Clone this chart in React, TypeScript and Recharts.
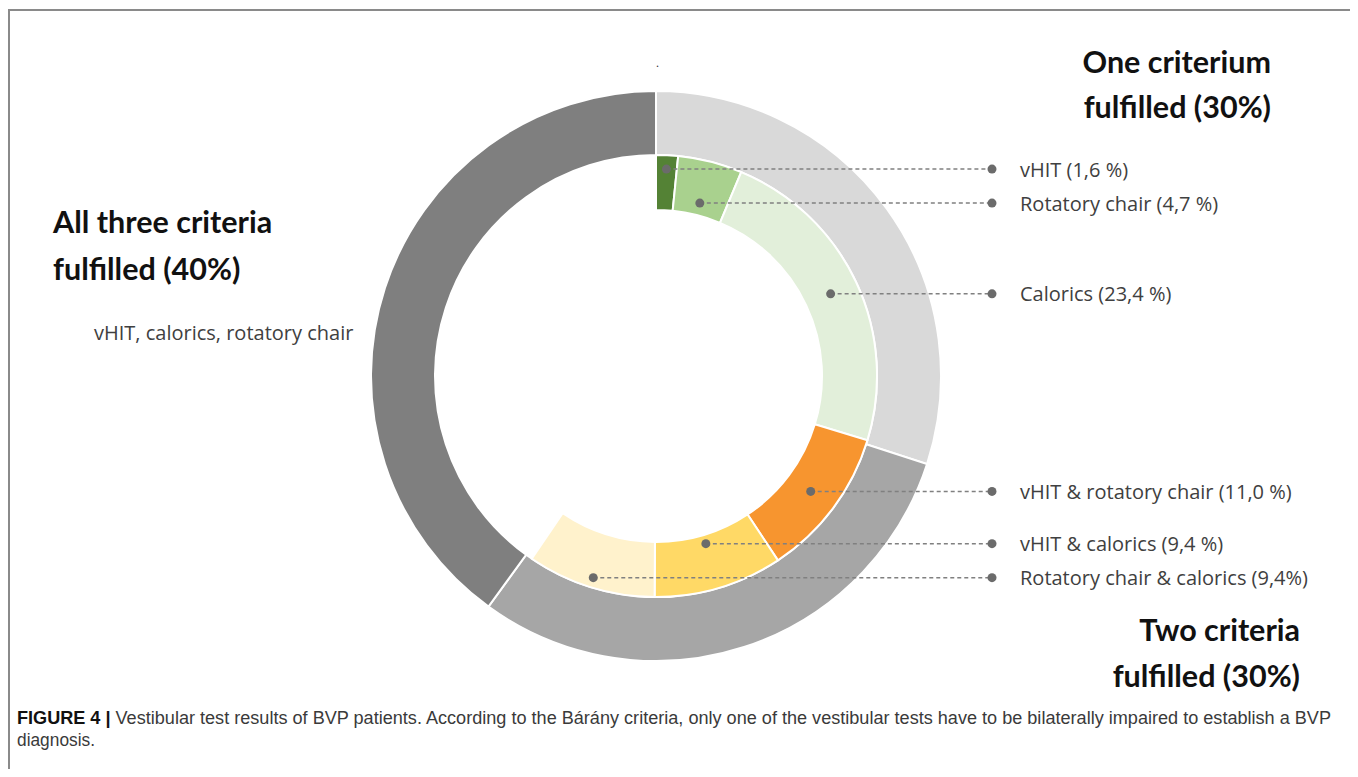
import React from "react";
import { PieChart, Pie, Cell } from "recharts";

// outer ring: how many Bárány criteria were met
const groupNames = ["One criterium", "Two criteria", "All three criteria"];
const groupShares = [30, 30, 40];
const groupColors = ["#d9d9d9", "#a6a6a6", "#7f7f7f"];

// inner ring: which tests were impaired
const testNames = [
  "vHIT (1,6 %)",
  "Rotatory chair (4,7 %)",
  "Calorics (23,4 %)",
  "vHIT & rotatory chair (11,0 %)",
  "vHIT & calorics (9,4 %)",
  "Rotatory chair & calorics (9,4%)",
];
const testShares = [1.6, 4.7, 23.4, 11.0, 9.4, 9.4];
const testColors = ["#548235", "#a9d18e", "#e2efda", "#f7952f", "#ffd966", "#fff2cc"];

const restShare = 100 - testShares.reduce((a, b) => a + b, 0);

const outerData = groupNames.map((name, i) => ({ name, value: groupShares[i] }));
const innerData = [
  ...testNames.map((name, i) => ({ name, value: testShares[i] })),
  { name: "", value: restShare },
];

const W = 1358;
const H = 700;
const CX = 656;
const CY = 376;
const RAD = Math.PI / 180;
const DOT_R = 193;
const GAP = 34;
const LINE_END = 336;
const TEXT_X = 364;

// vertical offsets of the leader labels, spread so they do not overlap
function labelOffsets(): number[] {
  let cum = 0;
  const dys = testShares.map((v) => {
    const mid = 90 - (360 * (cum + v / 2)) / 100;
    cum += v;
    return -DOT_R * Math.sin(mid * RAD);
  });
  for (let k = 0; k < 20; k++) {
    for (let i = 0; i < dys.length - 1; i++) {
      if (dys[i + 1] - dys[i] < GAP) {
        const c = (dys[i] + dys[i + 1]) / 2;
        dys[i] = c - GAP / 2;
        dys[i + 1] = c + GAP / 2;
      }
    }
  }
  return dys;
}
const offsets = labelOffsets();

const renderTestLabel = (p: any) => {
  const i = p.index;
  if (i >= testNames.length) return null;
  const s = Math.sin(p.midAngle * RAD);
  const c = Math.cos(p.midAngle * RAD);
  const dy = offsets[i];
  let r = Math.abs(s) > 0.05 ? -dy / s : DOT_R;
  r = Math.max(p.innerRadius + 6, Math.min(p.outerRadius - 6, r));
  const x0 = p.cx + r * c;
  const y0 = p.cy - r * s;
  const y = p.cy + dy;
  return (
    <g key={"lab" + i}>
      <line x1={x0} y1={y0} x2={p.cx + LINE_END} y2={y} stroke="#808080" strokeWidth={1.5} strokeDasharray="4 3" />
      <circle cx={x0} cy={y0} r={4.5} fill="#6b6b6b" />
      <circle cx={p.cx + LINE_END} cy={y} r={4.5} fill="#6b6b6b" />
      <text x={p.cx + TEXT_X} y={y} dominantBaseline="central" fontFamily="'Open Sans', sans-serif" fontSize={20} fill="#404040">
        {testNames[i]}
      </text>
    </g>
  );
};

const headFont = "Lato, 'Open Sans', sans-serif";

export default function App() {
  return (
    <div style={{ position: "relative", width: 1342, height: 761, overflow: "hidden" }}>
      <div
        style={{
          position: "absolute", left: 0, top: 1, width: 1346, height: 800,
          border: "2px solid #8a8a8a", boxSizing: "border-box",
        }}
      />
      <div style={{ position: "absolute", left: -8, top: -8 }}>
        <PieChart width={W} height={H} margin={{ top: 0, right: 0, bottom: 0, left: 0 }}>
          <Pie
            data={outerData} dataKey="value" nameKey="name" cx={CX} cy={CY}
            innerRadius={221} outerRadius={285} startAngle={90} endAngle={-270}
            stroke="#ffffff" strokeWidth={2} isAnimationActive={false}
          >
            {outerData.map((d, i) => <Cell key={d.name} fill={groupColors[i]} />)}
          </Pie>
          <Pie
            data={innerData} dataKey="value" nameKey="name" cx={CX} cy={CY}
            innerRadius={166} outerRadius={221} startAngle={90} endAngle={-270}
            stroke="#ffffff" strokeWidth={2} isAnimationActive={false}
            label={renderTestLabel} labelLine={false}
          >
            {innerData.map((d, i) => (
              <Cell key={"c" + i} fill={i < testColors.length ? testColors[i] : "none"} stroke={i < testColors.length ? "#ffffff" : "none"} />
            ))}
          </Pie>
        </PieChart>
      </div>
      <svg width={W} height={777} style={{ position: "absolute", left: -8, top: -8, pointerEvents: "none" }}>
        <text x={CX} y={67} fontSize={12} fill="#333">.</text>
        <g fontFamily={headFont} fontWeight={700} fontSize={30.5} fill="#111">
          <text x={1271} y={73} textAnchor="end">{groupNames[0]}</text>
          <text x={1271} y={118} textAnchor="end">fulfilled ({groupShares[0]}%)</text>
          <text x={53} y={233}>{groupNames[2]}</text>
          <text x={53} y={280}>fulfilled ({groupShares[2]}%)</text>
          <text x={1300} y={641} textAnchor="end">{groupNames[1]}</text>
          <text x={1300} y={687} textAnchor="end">fulfilled ({groupShares[1]}%)</text>
        </g>
        <text x={94} y={340} fontFamily="'Open Sans', sans-serif" fontSize={20} fill="#404040">
          vHIT, calorics, rotatory chair
        </text>
        <g fontFamily="'Liberation Sans', Arial, sans-serif" fontSize={17.5} fill="#3a3a3a">
          <text x={17} y={724} textLength={1314} lengthAdjust="spacingAndGlyphs">
            <tspan fontWeight={700} fill="#111">FIGURE 4 | </tspan>
            Vestibular test results of BVP patients. According to the Bárány criteria, only one of the vestibular tests have to be bilaterally impaired to establish a BVP
          </text>
          <text x={17} y={746} textLength={78} lengthAdjust="spacingAndGlyphs">diagnosis.</text>
        </g>
      </svg>
    </div>
  );
}
